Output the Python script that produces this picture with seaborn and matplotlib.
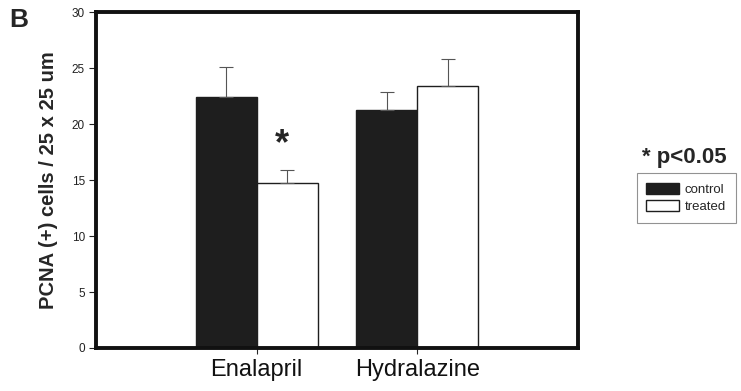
import pandas as pd
import seaborn as sns
import matplotlib.pyplot as plt
from matplotlib.patches import Patch

sns.set_theme(style="white")
plt.rcParams["font.family"] = ["Liberation Sans", "DejaVu Sans"]

# Data
drugs = ["Enalapril", "Hydralazine"]
groups = ["control", "treated"]
means = {"control": [22.4, 21.3], "treated": [14.7, 23.4]}
errors = {"control": [2.7, 1.6], "treated": [1.2, 2.4]}

rows = []
for g in groups:
    for d, m, e in zip(drugs, means[g], errors[g]):
        rows.append({"drug": d, "group": g, "value": m, "err": e})
df = pd.DataFrame(rows)

fig = plt.figure(figsize=(7.41, 3.91), dpi=100)
ax = fig.add_axes([0.1296, 0.11, 0.6505, 0.859])

sns.barplot(data=df, x="drug", y="value", hue="group", order=drugs,
            hue_order=groups, palette={"control": "#1e1e1e", "treated": "white"},
            edgecolor="#1e1e1e", linewidth=1.0, width=0.76, errorbar=None,
            legend=False, ax=ax)

# upward-only error bars, positioned from the drawn bars
bars = [p for p in ax.patches if p.get_height() > 0]
for bar, (_, row) in zip(bars, df.iterrows()):
    cx = bar.get_x() + bar.get_width() / 2
    ax.errorbar(cx, row["value"], yerr=[[0], [row["err"]]], fmt="none",
                ecolor="#555555", elinewidth=0.8, capsize=5, capthick=0.8)

# significance star over treated Enalapril
star_bar = bars[2]
ax.text(star_bar.get_x() + star_bar.get_width() / 2 - 0.03, 18.2, "*",
        ha="center", va="center", fontsize=26, fontweight="bold")

ax.set_xlim(-1, 2)
ax.set_ylim(0, 30)
ax.set_yticks([0, 5, 10, 15, 20, 25, 30])
ax.set_xlabel("")
ax.set_ylabel("PCNA (+) cells / 25 x 25 um", fontsize=14.5, fontweight="bold",
              labelpad=10)
ax.tick_params(axis="y", labelsize=8.5, length=5, width=0.8, direction="out",
               left=True, pad=3, colors="#222222")
ax.tick_params(axis="x", labelsize=17, length=4, width=0.8, direction="out",
               bottom=True, pad=4)
for lab in ax.get_xticklabels():
    lab.set_color("#111111")
for s in ax.spines.values():
    s.set_linewidth(2.8)
    s.set_color("#111111")

fig.text(0.012, 0.948, "B", fontsize=19, fontweight="bold", va="center")
fig.text(0.923, 0.596, "* p<0.05", fontsize=16, fontweight="bold",
         ha="center", va="center")

handles = [Patch(facecolor="#1e1e1e", edgecolor="#1e1e1e", label="control"),
           Patch(facecolor="white", edgecolor="#1e1e1e", label="treated")]
leg = fig.legend(handles=handles, loc="upper left",
                 bbox_to_anchor=(0.859, 0.558), fontsize=9.5, frameon=True,
                 fancybox=False, handlelength=2.5, handleheight=0.9,
                 borderpad=0.75, labelspacing=0.35, handletextpad=0.4,
                 borderaxespad=0)
leg.get_frame().set_edgecolor("#777777")
leg.get_frame().set_linewidth(0.8)

fig.savefig("out.png", dpi=100, facecolor="white")
